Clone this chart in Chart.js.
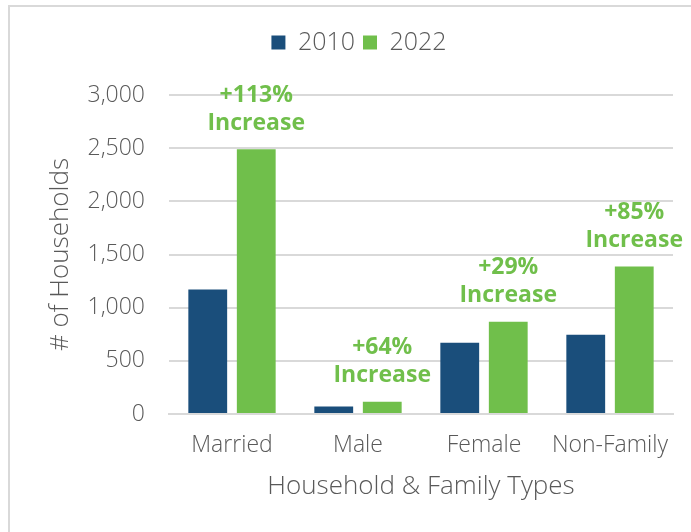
<!DOCTYPE html>
<html>
<head>
<meta charset="utf-8">
<script src="https://cdn.jsdelivr.net/npm/chart.js@4"></script>
<style>
  html, body { margin: 0; padding: 0; background: #fff; overflow: hidden; width: 691px; height: 532px; }
  #frame { position: absolute; left: 8px; top: 5px; width: 702px; height: 530px; border: 2px solid #d9d9d9; box-sizing: border-box; }
  #wrap { position: absolute; left: 9px; top: 6px; width: 702px; height: 530px; }
</style>
</head>
<body>
<div id="frame"></div>
<div id="wrap"><canvas id="householdChart" width="702" height="530"></canvas></div>
<script>
const categories = ["Married", "Male", "Female", "Non-Family"];
const values2010 = [1170, 70, 670, 745];
const values2022 = [2490, 115, 868, 1387];
const increaseLabels = ["+113%", "+64%", "+29%", "+85%"];
const yTicks = [0, 500, 1000, 1500, 2000, 2500, 3000];

const textGrey = "#595959";
const gridGrey = "#d9d9d9";
const fontFamily = "'Open Sans', Lato, sans-serif";

// draws "+xx% / Increase" above each 2022 bar
const increasePlugin = {
  id: "increaseLabels",
  afterDatasetsDraw(chart) {
    const ctx = chart.ctx;
    const meta = chart.getDatasetMeta(1);
    ctx.save();
    ctx.fillStyle = "#70bf4b";
    ctx.font = "bold 23px " + fontFamily;
    ctx.textAlign = "center";
    ctx.textBaseline = "middle";
    meta.data.forEach((bar, i) => {
      ctx.fillText(increaseLabels[i], bar.x, bar.y - 54);
      ctx.fillText("Increase", bar.x, bar.y - 26);
    });
    ctx.restore();
  },
};

// extra room under the legend
const legendSpacer = {
  id: "legendSpacer",
  beforeInit(chart) {
    const origFit = chart.legend.fit;
    chart.legend.fit = function () {
      origFit.bind(chart.legend)();
      this.height += 30;
    };
  },
};

const ctx = document.getElementById("householdChart").getContext("2d");
const householdChart = new Chart(ctx, {
  type: "bar",
  data: {
    labels: categories,
    datasets: [
      {
        label: "2010",
        data: values2010,
        backgroundColor: "#1a4e7b",
        categoryPercentage: 0.77,
        barPercentage: 0.8,
      },
      {
        label: "2022",
        data: values2022,
        backgroundColor: "#70bf4b",
        categoryPercentage: 0.77,
        barPercentage: 0.8,
      },
    ],
  },
  options: {
    responsive: false,
    animation: false,
    layout: {
      padding: { left: 36, right: 38, top: 16, bottom: 34 },
    },
    plugins: {
      tooltip: { enabled: false },
      legend: {
        position: "top",
        labels: {
          color: textGrey,
          font: { family: fontFamily, size: 25, weight: 300 },
          boxWidth: 14,
          boxHeight: 14,
          padding: 8,
        },
      },
    },
    scales: {
      x: {
        grid: { display: false },
        border: { color: gridGrey, width: 2 },
        ticks: {
          color: textGrey,
          font: { family: fontFamily, size: 23, weight: 300 },
          padding: 10,
        },
        title: {
          display: true,
          text: "Household & Family Types",
          color: textGrey,
          font: { family: fontFamily, size: 26, weight: 300 },
          padding: { top: 6, bottom: 0 },
        },
        afterFit(scale) {
          scale.height = 88;
        },
      },
      y: {
        min: 0,
        max: 3000,
        afterBuildTicks(scale) {
          scale.ticks = yTicks.map((v) => ({ value: v }));
        },
        grid: { color: gridGrey, lineWidth: 2, drawTicks: false },
        border: { display: false },
        ticks: {
          color: textGrey,
          font: { family: fontFamily, size: 23, weight: 300 },
          padding: 24,
          callback: (v) => v.toLocaleString("en-US"),
        },
        title: {
          display: true,
          text: "# of Households",
          color: textGrey,
          font: { family: fontFamily, size: 26, weight: 300 },
          padding: { top: 0, bottom: 4 },
        },
        afterFit(scale) {
          scale.width = 124;
        },
      },
    },
  },
  plugins: [increasePlugin, legendSpacer],
});
</script>
</body>
</html>
